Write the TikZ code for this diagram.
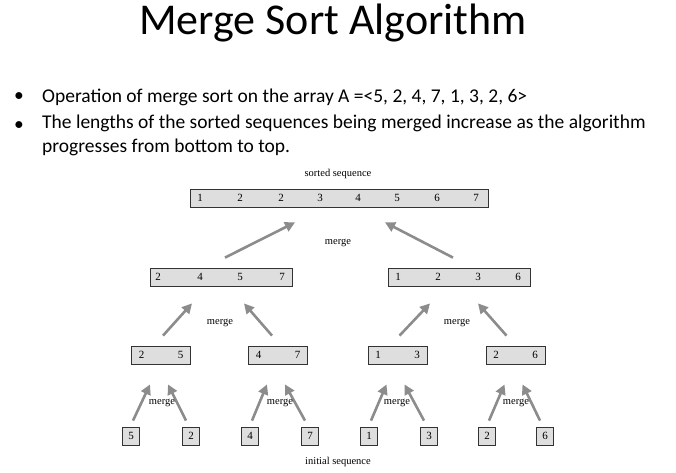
\documentclass[tikz,border=0pt]{standalone}
\usepackage{fontspec}
\setmainfont{Carlito}
\newfontfamily\serifnum{Liberation Serif}
\usetikzlibrary{arrows.meta,calc}
\begin{document}
\begin{tikzpicture}[x=1pt,y=-1pt,
  box/.style={draw=black!80,fill=black!13,line width=0.8pt,inner sep=0pt,minimum height=18pt},
  num/.style={font=\serifnum\fontsize{11}{13}\selectfont,inner sep=0pt},
  lbl/.style={font=\serifnum\fontsize{10.5}{12}\selectfont,inner sep=0pt},
  arr/.style={draw=black!45,line width=2.6pt,-{Triangle[length=10pt,width=10pt]}},
  bul/.style={font=\fontsize{19.5}{24}\selectfont,anchor=west,inner sep=0pt,align=left}]
\useasboundingbox (0,0) rectangle (676,472);
\node[font=\fontsize{44}{48}\selectfont,inner sep=0pt] (title) at (333,23) {Merge Sort Algorithm};
\node[bul] (b1) at (14,97) {\textbullet};
\node[bul] (t1) at (42,97) {Operation of merge sort on the array A =<5, 2, 4, 7, 1, 3, 2, 6>};
\node[bul] (b2) at (14,126) {\textbullet};
\node[bul,anchor=north west] (t2) at (42,115) {The lengths of the sorted sequences being merged increase as the algorithm\\progresses from bottom to top.};
% top
\node[box,minimum width=298pt] (top) at (339,198) {};
\foreach \x/\v [count=\i] in {200/1,240/2,281/2,320/3,358/4,397/5,437/6,476/7}
  \node[num] (top\i) at (\x,198) {\v};
\node[lbl] (sorted) at (338,174) {sorted sequence};
% level 2
\node[box,minimum width=142pt] (L) at (221,277) {};
\foreach \x/\v [count=\i] in {158/2,200/4,240/5,282/7} \node[num] (L\i) at (\x,277) {\v};
\node[box,minimum width=142pt] (R) at (459,277) {};
\foreach \x/\v [count=\i] in {398/1,438/2,478/3,518/6} \node[num] (R\i) at (\x,277) {\v};
% level 3
\foreach \n/\c/\a/\b in {A/161/2/5,B/278/4/7,C/397.5/1/3,D/515.5/2/6}{
  \node[box,minimum width=59pt] (\n) at (\c,355) {};
  \node[num] (\n1) at (\c-19.5,355) {\a};
  \node[num] (\n2) at (\c+19.5,355) {\b};
}
% level 4
\foreach \n/\c/\v in {a/131/5,b/191/2,c/250/4,d/310/7,e/369/1,f/429/3,g/487/2,h/545/6}
  \node[box,minimum width=17pt,font=\serifnum\fontsize{11}{13}\selectfont] (\n) at (\c,436) {\v};
\node[lbl] (init) at (338,462) {initial sequence};
% arrows
\draw[arr] ($(L.north)+(4,-10)$) -- ($(top.south)+(-44,15)$);
\draw[arr] ($(R.north)+(-6,-10)$) -- ($(top.south)+(46,15)$);
\node[lbl] (m0) at (338,243) {merge};
\foreach \c/\p in {A/L,C/R}{
  \draw[arr] ($(\c.north)+(2,-10)$) -- ($(\p.south)+(-29,17)$);
}
\draw[arr] ($(B.north)+(-6,-10)$) -- ($(L.south)+(23,17)$);
\draw[arr] ($(D.north)+(-9,-10)$) -- ($(R.south)+(19,17)$);
\node[lbl] (m1) at (220,323) {merge};
\node[lbl] (m2) at (457,323) {merge};
\foreach \l/\r/\p/\m/\mx in {a/b/A/m3/162,c/d/B/m4/280,e/f/C/m5/397,g/h/D/m6/516}{
  \draw[arr] ($(\l.north)+(2,-6)$) -- ($(\p.south)+(-11,20)$);
  \draw[arr] ($(\r.north)+(-5,-6)$) -- ($(\p.south)+(7,20)$);
  \node[lbl] (\m) at (\mx,403) {merge};
}
\end{tikzpicture}
\end{document}
